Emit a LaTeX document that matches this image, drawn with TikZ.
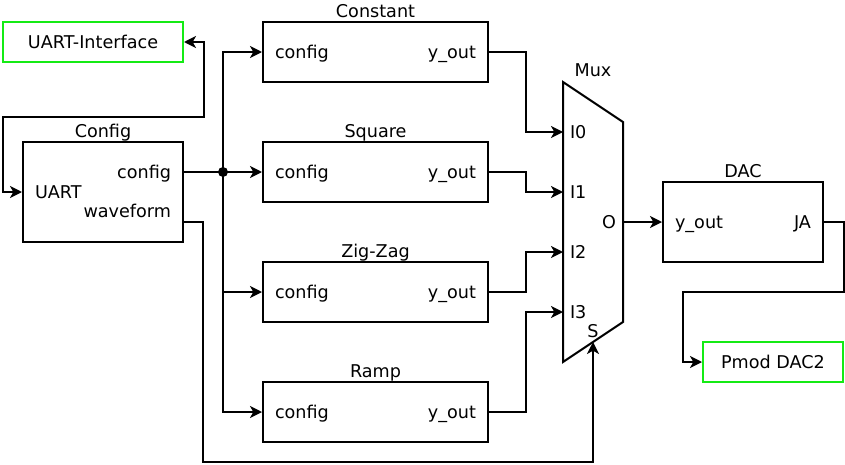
\documentclass[tikz,border=0pt]{standalone}
\usepackage{fontspec}
\setmainfont{DejaVu Sans}
\usetikzlibrary{arrows.meta}

\definecolor{ifgreen}{RGB}{20,235,20}

\begin{document}
\begin{tikzpicture}[x=0.75pt, y=-0.75pt, line width=1.5pt, >={Stealth[length=9pt, width=9pt, inset=2.5pt]},
	every node/.style={font=\fontsize{13.2}{15}\selectfont, inner sep=0pt, text height=9.6pt, text depth=0pt},
	block/.style={draw, minimum width=#1, minimum height=45pt},
	ext/.style={draw=ifgreen, minimum width=#1, minimum height=30pt}]
	\useasboundingbox (0,0) rectangle (845,464);

	% outside world
	\node[ext=135pt] (uart) at (93,42) {UART-Interface};
	\node[ext=105pt] (pmod) at (773,362) {Pmod DAC2};

	% config block
	\node[draw, minimum width=120pt, minimum height=75pt] (cfg) at (103,192) {};
	\node[anchor=base] (cfgtitle) at ([yshift=3pt]cfg.north) {Config};
	\node[anchor=east] (cfgport) at ([xshift=-9pt, yshift=15pt]cfg.east) {config};
	\node[anchor=west] (uartport) at ([xshift=9pt]cfg.west) {UART};
	\node[anchor=east] (wfport) at ([xshift=-9pt, yshift=-14.25pt]cfg.east) {waveform};
	\coordinate (wfout) at (183,222);

	% waveform generators
	\node[block=168.75pt] (const) at (375.5,52) {};
	\node[block=168.75pt] (sq) at (375.5,172) {};
	\node[block=168.75pt] (zz) at (375.5,292) {};
	\node[block=168.75pt] (ramp) at (375.5,412) {};
	\node[anchor=base] (consttitle) at ([yshift=3pt]const.north) {Constant};
	\node[anchor=base] (sqtitle) at ([yshift=3pt]sq.north) {Square};
	\node[anchor=base] (zztitle) at ([yshift=3pt]zz.north) {Zig-Zag};
	\node[anchor=base] (ramptitle) at ([yshift=3pt]ramp.north) {Ramp};
	\foreach \g in {const, sq, zz, ramp} {
		\node[anchor=west] (\g cfg) at ([xshift=9pt]\g.west) {config};
		\node[anchor=east] (\g out) at ([xshift=-9pt]\g.east) {y\_out};
	}

	% mux
	\coordinate (m1) at (563,82);
	\coordinate (m2) at (623,122);
	\coordinate (m3) at (623,322);
	\coordinate (m4) at (563,362);
	\draw (m1) -- (m2) -- (m3) -- (m4) -- cycle;
	\node[anchor=base] (muxtitle) at (593,76) {Mux};
	\foreach \i/\y in {0/132, 1/192, 2/252, 3/312} {
		\coordinate (in\i) at (563,\y);
		\node[anchor=west] (in\i lbl) at ([xshift=4.5pt]in\i) {I\i};
	}
	\coordinate (muxout) at (623,222);
	\node[anchor=east] (outlbl) at ([xshift=-4.5pt]muxout) {O};
	\coordinate (sel) at (593,342);
	\node[anchor=base] (sellbl) at ([yshift=3.75pt]sel) {S};

	% dac
	\node[draw, minimum width=120pt, minimum height=60pt] (dac) at (743,222) {};
	\node[anchor=base] (dactitle) at ([yshift=3pt]dac.north) {DAC};
	\node[anchor=west] (dacin) at ([xshift=9pt]dac.west) {y\_out};
	\node[anchor=east] (dacja) at ([xshift=-9pt]dac.east) {JA};

	% wiring
	\coordinate (split) at (223,172);
	\coordinate (loop) at (3,117);
	\coordinate (selbus) at (203,462);
	\coordinate (jbend) at (683,292);
	\draw[<->] (uart.east) -- ++(20,0) |- (loop) |- (cfg.west);
	\draw (cfg.east |- cfgport.east) -- (split);
	\fill (split) circle[radius=3.75pt];
	\draw[->] (split) -- (sq.west);
	\draw[->] (split) |- (const.west);
	\draw[->] (split) |- (zz.west);
	\draw[->] (split) |- (ramp.west);
	\draw[->] (wfout) -| (selbus) -| (sel);
	\draw[->] (const.east) -- ++(37,0) |- (in0);
	\draw[->] (sq.east) -- ++(37,0) |- (in1);
	\draw[->] (zz.east) -- ++(37,0) |- (in2);
	\draw[->] (ramp.east) -- ++(37,0) |- (in3);
	\draw[->] (muxout) -- (dac.west);
	\draw[->] (dac.east) -- ++(20,0) |- (jbend) |- (pmod.west);
\end{tikzpicture}
\end{document}
